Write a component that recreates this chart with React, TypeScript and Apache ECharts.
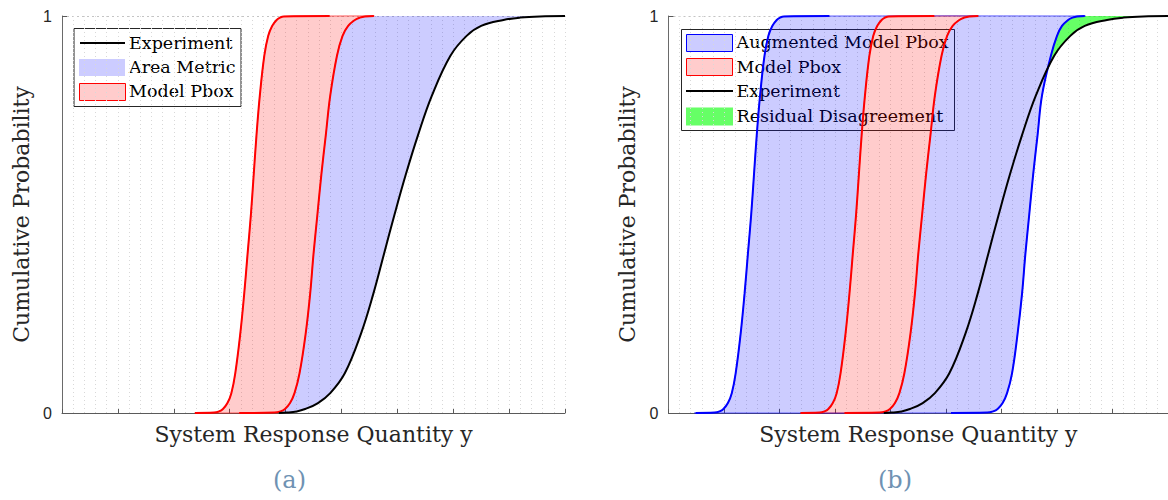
import { useEffect, useRef } from "react";
import * as echarts from "echarts";

// Probability levels shared by every CDF curve (first and last entries are the flat tails)
const probLevels = [0, 0.001, 0.004, 0.01, 0.025, 0.05, 0.1, 0.2, 0.3, 0.4, 0.5, 0.6, 0.7, 0.8, 0.9, 0.95, 0.975, 0.99, 0.996, 0.999, 1];

// x values of each curve at the probability levels above
const modelLower = [2.38, 2.72, 2.81, 2.88, 2.96, 3.03, 3.1, 3.19, 3.26, 3.32, 3.38, 3.43, 3.48, 3.54, 3.62, 3.69, 3.76, 3.84, 3.9, 3.97, 4.79];
const modelUpper = [3.17, 3.8, 3.91, 3.99, 4.08, 4.16, 4.25, 4.36, 4.44, 4.5, 4.57, 4.64, 4.72, 4.8, 4.92, 5.02, 5.12, 5.24, 5.33, 5.42, 5.58];
const augmentedLower = [0.49, 0.83, 0.92, 0.99, 1.07, 1.14, 1.21, 1.3, 1.37, 1.43, 1.49, 1.54, 1.59, 1.65, 1.73, 1.8, 1.87, 1.95, 2.01, 2.08, 2.9];
const augmentedUpper = [5.09, 5.74, 5.85, 5.93, 6.02, 6.1, 6.19, 6.29, 6.37, 6.43, 6.5, 6.57, 6.65, 6.73, 6.89, 7.0, 7.09, 7.2, 7.28, 7.36, 7.5];
const experiment = [3.88, 4.02, 4.2, 4.35, 4.58, 4.8, 5.06, 5.35, 5.57, 5.76, 5.95, 6.15, 6.37, 6.62, 6.95, 7.24, 7.5, 7.9, 8.2, 8.55, 9.0];

const xTicks = [0, 1, 2, 3, 4, 5, 6, 7, 8, 9];
const yTickLabels = [0, 1];

const legendA = ["Experiment", "Area Metric", "Model Pbox"];
const legendB = ["Augmented Model Pbox", "Model Pbox", "Experiment", "Residual Disagreement"];

const SERIF = "'DejaVu Serif', 'Liberation Serif', serif";
const SANS = "'Liberation Sans', Arial, sans-serif";
const BLUE_FILL = "rgba(0,0,255,0.2)";
const RED_FILL = "rgba(255,0,0,0.2)";
const GREEN_FILL = "rgba(0,255,0,0.6)";
const SMOOTH = 0.4;

type Pt = [number, number];

const curve = (xs: number[]): Pt[] => xs.map((x, i) => [x, probLevels[i]]);

// closed region between a left curve and a right curve
const band = (left: number[], right: number[]): Pt[] => [
  ...curve(left),
  ...curve(right).reverse(),
];

// region where the right curve lies to the right of the left curve, starting at their upper crossing
const excessBand = (left: number[], right: number[]): Pt[] => {
  let k = -1;
  for (let i = 1; i < probLevels.length; i++) {
    const d0 = right[i - 1] - left[i - 1];
    const d1 = right[i] - left[i];
    if (d0 <= 0 && d1 > 0) k = i;
  }
  if (k < 0) return [];
  const d0 = right[k - 1] - left[k - 1];
  const d1 = right[k] - left[k];
  const t = -d0 / (d1 - d0);
  const xc = left[k - 1] + t * (left[k] - left[k - 1]);
  const pc = probLevels[k - 1] + t * (probLevels[k] - probLevels[k - 1]);
  const pts: Pt[] = [[xc, pc]];
  for (let i = k; i < probLevels.length; i++) pts.push([left[i], probLevels[i]]);
  for (let i = probLevels.length - 1; i >= k; i--) pts.push([right[i], probLevels[i]]);
  return pts;
};

const areaSeries = (idx: number, pts: Pt[], fill: string, stroke?: string) => ({
  type: "custom",
  xAxisIndex: idx,
  yAxisIndex: idx,
  silent: true,
  z: 1,
  data: [[0, 0]],
  renderItem: (_p: any, api: any) => ({
    type: "polygon",
    shape: { points: pts.map((p) => api.coord(p)), smooth: SMOOTH },
    style: { fill, stroke: stroke || "none", lineWidth: 1 },
  }),
});

const outlineSeries = (idx: number, pts: Pt[], stroke: string) => ({
  type: "custom",
  xAxisIndex: idx,
  yAxisIndex: idx,
  silent: true,
  z: 2,
  data: [[0, 0]],
  renderItem: (_p: any, api: any) => ({
    type: "polygon",
    shape: { points: pts.map((p) => api.coord(p)), smooth: SMOOTH },
    style: { fill: "none", stroke, lineWidth: 1 },
  }),
});

const lineSeries = (idx: number, xs: number[], color: string) => ({
  type: "line",
  xAxisIndex: idx,
  yAxisIndex: idx,
  data: curve(xs),
  symbol: "none",
  showSymbol: false,
  silent: true,
  clip: false,
  smooth: SMOOTH,
  z: 3,
  lineStyle: { color, width: 2 },
});

const gridLine = { show: true, lineStyle: { color: "#c4c4c4", type: [2, 3], width: 1 } };
const minorGridLine = { show: true, lineStyle: { color: "#d8d8d8", type: [1, 3], width: 1 } };

const makeXAxis = (idx: number) => ({
  type: "value",
  gridIndex: idx,
  min: xTicks[0],
  max: xTicks[xTicks.length - 1],
  interval: 1,
  axisLine: { show: true, onZero: false, lineStyle: { color: "#5a5a5a", width: 1 } },
  axisTick: { show: true, inside: true, length: 4, lineStyle: { color: "#5a5a5a" } },
  minorTick: { show: false, splitNumber: 5 },
  axisLabel: { show: false },
  splitLine: minorGridLine,
  minorSplitLine: minorGridLine,
  name: "System Response Quantity y",
  nameLocation: "middle",
  nameGap: 10,
  nameTextStyle: { fontFamily: SERIF, fontSize: 22, color: "#262626" },
});

const makeYAxis = (idx: number) => ({
  type: "value",
  gridIndex: idx,
  min: 0,
  max: 1,
  interval: 0.2,
  axisLine: { show: true, onZero: false, lineStyle: { color: "#6a6a6a", width: 1 } },
  axisTick: { show: true, inside: true, length: 5, customValues: yTickLabels, lineStyle: { color: "#5a5a5a" } },
  axisLabel: {
    show: true,
    customValues: yTickLabels,
    margin: 10,
    fontFamily: SANS,
    fontSize: 16,
    color: "#262626",
  },
  splitLine: gridLine,
  name: "Cumulative Probability",
  nameLocation: "middle",
  nameGap: 30,
  nameTextStyle: { fontFamily: SERIF, fontSize: 22, color: "#262626" },
});

const legendText = (x: number, y: number, text: string) => ({
  type: "text",
  x,
  y,
  style: { text, fontFamily: SERIF, fontSize: 17.5, fill: "#000", verticalAlign: "middle", align: "left" },
});

export default function App() {
  const ref = useRef<HTMLDivElement>(null);

  useEffect(() => {
    if (!ref.current) return;
    const chart = echarts.init(ref.current, undefined, { renderer: "svg" });

    chart.setOption({
      animation: false,
      backgroundColor: "#ffffff",
      grid: [
        { left: 62, top: 16, width: 503, height: 397 },
        { left: 668.5, top: 16, width: 503, height: 397 },
      ],
      xAxis: [makeXAxis(0), makeXAxis(1)],
      yAxis: [makeYAxis(0), makeYAxis(1)],
      series: [
        // (a) area metric and model p-box
        areaSeries(0, band(modelUpper, experiment), BLUE_FILL),
        areaSeries(0, band(modelLower, modelUpper), RED_FILL, "rgba(255,0,0,0.6)"),
        lineSeries(0, modelLower, "#ff0000"),
        lineSeries(0, modelUpper, "#ff0000"),
        lineSeries(0, experiment, "#000000"),
        // (b) augmented p-box, model p-box, residual disagreement
        areaSeries(1, band(augmentedLower, modelLower), BLUE_FILL),
        areaSeries(1, band(modelUpper, augmentedUpper), BLUE_FILL),
        outlineSeries(1, band(augmentedLower, augmentedUpper), "rgba(0,0,255,0.6)"),
        areaSeries(1, band(modelLower, modelUpper), RED_FILL, "rgba(255,0,0,0.6)"),
        areaSeries(1, excessBand(augmentedUpper, experiment), GREEN_FILL),
        lineSeries(1, augmentedLower, "#0000ff"),
        lineSeries(1, augmentedUpper, "#0000ff"),
        lineSeries(1, modelLower, "#ff0000"),
        lineSeries(1, modelUpper, "#ff0000"),
        lineSeries(1, experiment, "#000000"),
      ],
      graphic: [
        {
          type: "group",
          z: 100,
          children: [
            { type: "rect", shape: { x: 74, y: 28.5, width: 167, height: 78 }, style: { fill: "#fff", stroke: "#262626", lineWidth: 1 } },
            { type: "line", shape: { x1: 80, y1: 43, x2: 125, y2: 43 }, style: { stroke: "#000", lineWidth: 2 } },
            legendText(129, 43, legendA[0]),
            { type: "rect", shape: { x: 79, y: 59, width: 46, height: 17 }, style: { fill: "#ccccff" } },
            legendText(129, 67, legendA[1]),
            { type: "rect", shape: { x: 79.5, y: 83.5, width: 46, height: 17 }, style: { fill: "#ffcccc", stroke: "#ff0000", lineWidth: 1 } },
            legendText(129, 91, legendA[2]),
          ],
        },
        {
          type: "group",
          z: 100,
          children: [
            { type: "rect", shape: { x: 681.5, y: 29.5, width: 273, height: 101 }, style: { fill: "#fff", stroke: "#262626", lineWidth: 1 } },
            { type: "rect", shape: { x: 686.5, y: 34.5, width: 46, height: 17 }, style: { fill: "#ccccff", stroke: "#0000ff", lineWidth: 1 } },
            legendText(736.5, 42, legendB[0]),
            { type: "rect", shape: { x: 686.5, y: 58.5, width: 46, height: 17 }, style: { fill: "#ffcccc", stroke: "#ff0000", lineWidth: 1 } },
            legendText(736.5, 66.5, legendB[1]),
            { type: "line", shape: { x1: 686, y1: 91, x2: 733, y2: 91 }, style: { stroke: "#000", lineWidth: 2 } },
            legendText(736.5, 91, legendB[2]),
            { type: "rect", shape: { x: 686, y: 107.5, width: 47, height: 18 }, style: { fill: "#66ff66" } },
            legendText(736.5, 115.5, legendB[3]),
          ],
        },
        {
          type: "text",
          x: 289.5,
          y: 480,
          style: { text: "(a)", fontFamily: SERIF, fontSize: 24, fill: "#6f92b3", align: "center", verticalAlign: "middle" },
        },
        {
          type: "text",
          x: 895,
          y: 480,
          style: { text: "(b)", fontFamily: SERIF, fontSize: 24, fill: "#6f92b3", align: "center", verticalAlign: "middle" },
        },
      ],
    });

    return () => chart.dispose();
  }, []);

  return (
    <div
      ref={ref}
      style={{ position: "fixed", left: 0, top: 0, width: 1168, height: 500, background: "#fff" }}
    />
  );
}
